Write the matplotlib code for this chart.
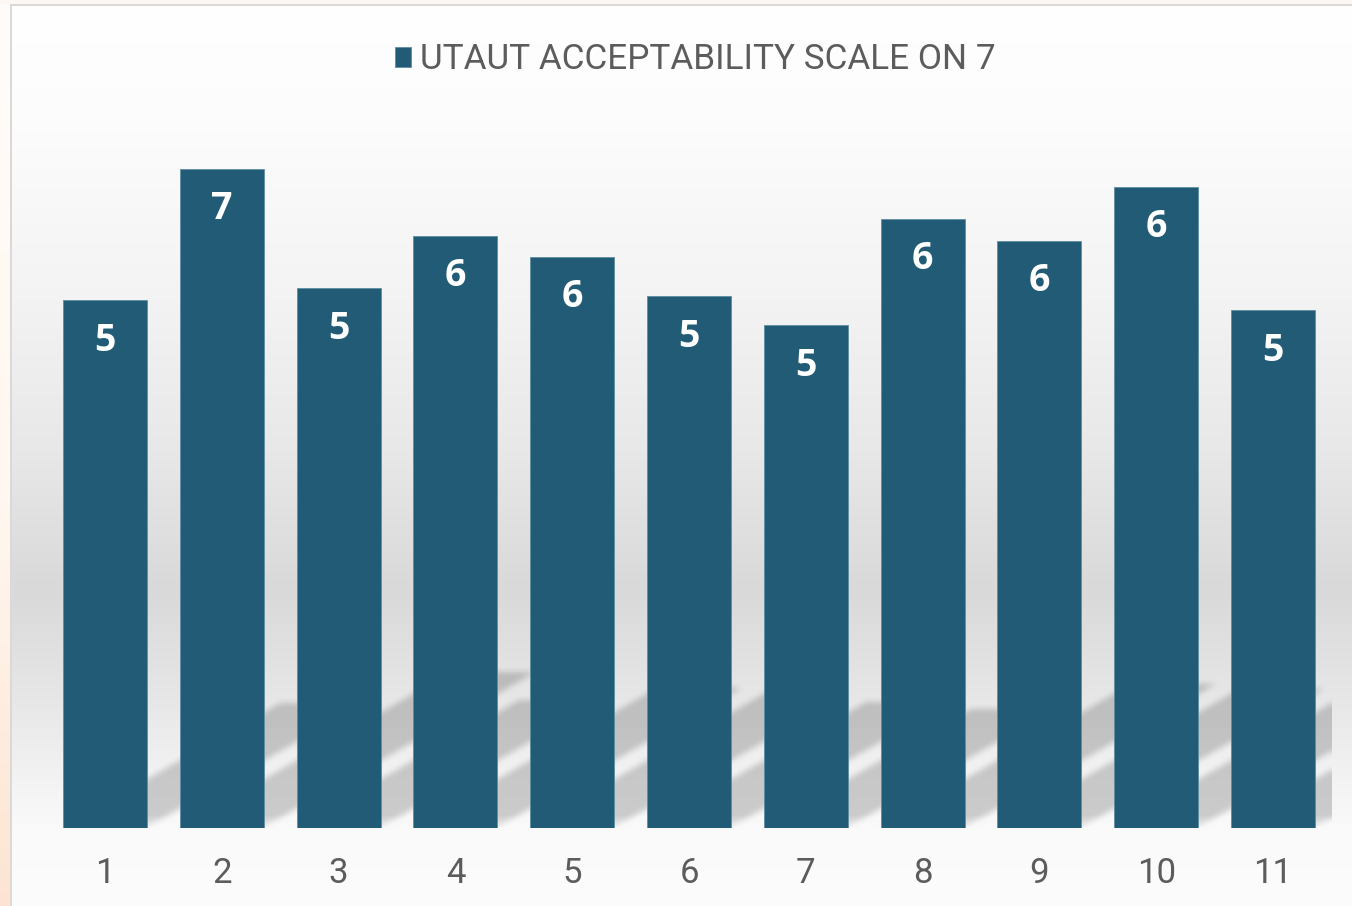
import numpy as np
import matplotlib
matplotlib.use("Agg")
import matplotlib.pyplot as plt

# UTAUT acceptability means per item (scale out of 7)
items = ["1", "2", "3", "4", "5", "6", "7", "8", "9", "10", "11"]
scores = [5.29, 6.61, 5.41, 5.94, 5.73, 5.33, 5.04, 6.11, 5.89, 6.43, 5.19]
series_name = "UTAUT ACCEPTABILITY SCALE ON 7"

BAR_COLOR = "#225b75"
TEXT_GRAY = "#5c5c5c"
THIN = ["Roboto", "DejaVu Sans"]

FIG_W, FIG_H = 1352, 906


def box_blur(a, r, passes=2):
    """Cheap separable box blur, run a couple of times."""
    out = a.astype(float)
    for _ in range(passes):
        for axis in (0, 1):
            pad = [(0, 0), (0, 0)]
            pad[axis] = (r + 1, r)
            c = np.cumsum(np.pad(out, pad, mode="edge"), axis=axis)
            n = out.shape[axis]
            hi = np.take(c, np.arange(2 * r + 1, 2 * r + 1 + n), axis=axis)
            lo = np.take(c, np.arange(0, n), axis=axis)
            out = (hi - lo) / (2 * r + 1)
    return out


def background_image():
    ys = np.arange(FIG_H)
    stops_y = [0, 130, 300, 450, 590, 700, 780, 830, FIG_H]
    stops_v = [255, 252, 243, 232, 217, 231, 243, 250, 252]
    col = np.interp(ys, stops_y, stops_v) / 255.0
    img = np.repeat(col[:, None, None], FIG_W, axis=1).repeat(3, axis=2)

    # warm strip left of the chart frame
    peach = np.stack([np.interp(ys, [0, 500, FIG_H], [255, 255, 253]),
                      np.interp(ys, [0, 500, FIG_H], [252, 248, 228]),
                      np.interp(ys, [0, 500, FIG_H], [250, 240, 210])], axis=1) / 255.0
    img[:, :10, :] = peach[:, None, :]
    img[:4, :, :] = np.array([253, 247, 243]) / 255.0
    # chart frame
    frame = np.array([217, 217, 217]) / 255.0
    img[4:6, 10:, :] = frame
    img[4:, 10:12, :] = frame
    return img


fig = plt.figure(figsize=(FIG_W / 100, FIG_H / 100), dpi=100)

bg = fig.add_axes([0, 0, 1, 1])
bg.imshow(background_image(), aspect="auto", extent=(0, 1, 0, 1), interpolation="bilinear")
bg.set_axis_off()

# plot area in pixels
left_px, right_px = 46.6, 1331.4
base_px, top_px = 827.5, 130.0
ax = fig.add_axes([left_px / FIG_W, (FIG_H - base_px) / FIG_H,
                   (right_px - left_px) / FIG_W, (base_px - top_px) / FIG_H])
ax.set_facecolor("none")

x = np.arange(1, len(items) + 1)
ymax = 7
bar_w = 0.72

# perspective shadow behind the bars, built on a pixel grid of the plot area
W = int(round(right_px - left_px))
H = int(round(base_px - top_px))
px_per_x = W / len(items)
px_per_y = H / ymax
skew = 1.75        # horizontal shift per pixel of shadow height
squash = 0.235     # shadow height relative to bar height
rows = np.arange(H)[:, None] + 0.5
cols = np.arange(W)[None, :] + 0.5
mask = np.zeros((H, W))
for xi, v in zip(x, scores):
    L = (xi - bar_w / 2 - 0.5) * px_per_x
    R = (xi + bar_w / 2 - 0.5) * px_per_x
    hs = v * px_per_y * squash
    inside = (rows <= hs) & (cols >= L + skew * rows) & (cols <= R + skew * rows)
    mask = np.maximum(mask, inside.astype(float))
mask = box_blur(mask, 3)
mask *= np.clip(0.35 + rows / 18.0, 0, 1)
shadow = np.zeros((H, W, 4))
shadow[..., 3] = mask * 0.18
ax.imshow(shadow, extent=(0.5, len(items) + 0.5, 0, ymax), origin="lower",
          aspect="auto", interpolation="bilinear", zorder=1)

bars = ax.bar(x, scores, width=bar_w, color=BAR_COLOR, edgecolor="#5f8ea3",
              linewidth=0.6, zorder=2, label=series_name)

for xi, v in zip(x, scores):
    ax.annotate(f"{v:.0f}", (xi, v), xytext=(0, -29), textcoords="offset points",
                ha="center", va="center", color="white", fontsize=27,
                fontweight="bold", family=["Open Sans", "DejaVu Sans"], zorder=3)

ax.set_xlim(0.5, len(items) + 0.5)
ax.set_ylim(0, ymax)
ax.set_xticks(x)
ax.set_xticklabels(items, family=THIN, fontsize=25, color=TEXT_GRAY)
ax.tick_params(axis="x", length=0, pad=21)
ax.set_yticks([])
for s in ax.spines.values():
    s.set_visible(False)

leg = ax.legend(loc="center", bbox_to_anchor=(0.5144, 0.9338),
                bbox_transform=fig.transFigure, frameon=False,
                handlelength=0.45, handleheight=0.5, handletextpad=0.25,
                prop={"family": THIN, "size": 25.3})
for t in leg.get_texts():
    t.set_color(TEXT_GRAY)

fig.savefig("out.png", dpi=100)
